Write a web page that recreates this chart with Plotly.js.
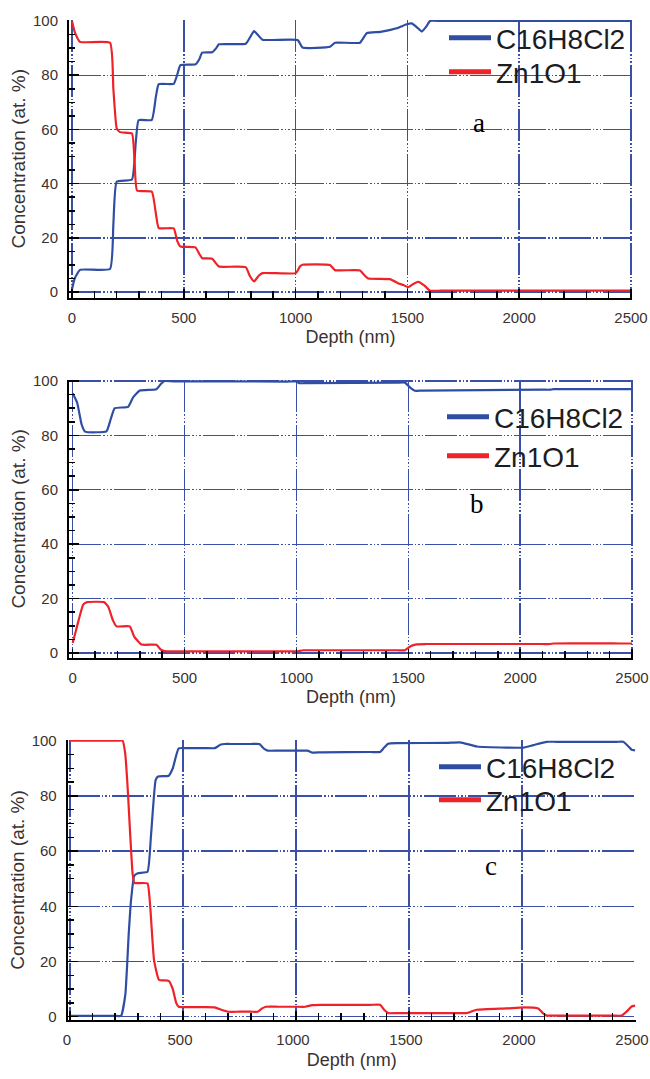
<!DOCTYPE html>
<html><head><meta charset="utf-8">
<script src="https://cdn.plot.ly/plotly-3.0.1.min.js"></script>
<style>html,body{margin:0;padding:0;background:#fff}#chart{width:650px;height:1079px}</style>
</head><body><div id="chart"></div>
<script>
// ---------- text ----------
const seriesNames = ['C16H8Cl2', 'Zn1O1'];
const panelLabels = ['a', 'b', 'c'];
const xTitle = 'Depth (nm)';
const yTitle = 'Concentration (at. %)';

// ---------- data: panel a ----------
const depthA_C16 = [0,12,36,170,185,200,268,285,298,357,375,388,455,470,485,552,570,582,627,645,657,777,800,814,830,852,1009,1031,1154,1176,1288,1318,1380,1452,1497,1519,1545,1564,1585,1601,1650,2450,2500];
const concA_C16  = [1,5,8.2,8.5,25,40.7,41.5,55,63.4,63.5,72,76.7,76.8,80,83.7,84,86,88.3,88.5,90,91.4,91.6,94.5,96.3,95,93.1,93,90.2,90.5,92,92,95.5,96,97.3,98.8,99.1,97.5,96.1,98,100,100,100,100];
const depthA_Zn  = [0,12,36,170,185,200,215,268,280,291,357,375,388,455,470,485,552,570,582,627,645,657,777,795,814,835,852,1001,1020,1031,1154,1176,1288,1310,1325,1422,1460,1482,1504,1530,1549,1575,1601,1650,2450,2500];
const concA_Zn   = [100,96,92.3,92,75,60.4,59,58.5,48,37.5,37,29,23.6,23.5,19,16.8,16.5,14,12.5,12.3,10.5,9.4,9.2,6,3.9,6,7,7,9.5,10.1,10,8.1,8,6,5,4.8,3.2,2.6,1.8,3.2,3.8,2.5,0.5,0.5,0.5,0.5];

// ---------- data: panel b ----------
const depthB_C16 = [0,20,40,55,151,170,188,248,270,300,374,395,411,450,960,1000,1012,1050,1450,1485,1510,1530,1560,2100,2133,2150,2450,2500];
const concB_C16  = [95.5,92,84,81.4,81.5,86,90,90.5,94,96.5,97,99,100,99.9,99.8,99.8,99.2,99.2,99.4,99.4,97.5,96.4,96.5,96.8,96.8,97,97,97];
const depthB_Zn  = [0,20,47,65,140,159,180,196,255,275,307,374,395,411,450,960,1000,1030,1060,1450,1485,1510,1537,1580,2100,2133,2150,2450,2500];
const concB_Zn   = [3.7,10,17.8,18.7,18.7,17,12,9.8,9.8,6,3.1,3,1.2,0.7,0.6,0.6,0.6,1.0,1.0,1.0,1.0,2.5,3.2,3.3,3.3,3.3,3.5,3.5,3.5];

// ---------- data: panel c ----------
const depthC_C16 = [0,30,200,226,245,260,270,284,300,343,358,379,390,437,455,481,520,600,641,665,685,720,800,838,860,875,920,1000,1050,1071,1110,1330,1372,1390,1408,1450,1667,1726,1800,1932,2007,2050,2109,2150,2420,2448,2470,2485,2500];
const concC_C16  = [0.3,0.3,0.3,0.3,8,30,42,51,52,52.5,65,85.7,87,87.3,90,97.2,97.3,97.3,97.3,98.5,98.8,98.8,98.8,98.8,97,96.4,96.4,96.4,96.4,95.7,95.8,95.9,95.9,97.5,98.9,99.1,99.2,99.4,97.9,97.5,97.5,98.4,99.6,99.6,99.6,99.6,98,96.7,96.5];
const depthC_Zn  = [0,20,210,233,245,255,277,285,300,343,355,372,394,437,455,470,481,520,600,641,670,700,750,800,831,850,867,920,1000,1042,1071,1110,1330,1372,1390,1408,1450,1700,1755,1800,1932,2007,2072,2090,2109,2150,2400,2441,2465,2485,2500];
const concC_Zn   = [100,100,100,100,95,83.3,51.9,48.5,48.4,48.3,40,20.5,13.3,13,10,5,3.6,3.5,3.5,3.4,2.5,1.8,1.8,1.8,1.8,3,3.6,3.6,3.6,3.6,4.2,4.3,4.3,4.3,2.5,1.3,1.3,1.3,1.3,2.5,3.0,3.4,3.0,1.5,0.4,0.4,0.4,0.4,2,3.7,4.0];

// ---------- styling ----------
const W = 650, H = 1079;
const BLUE = '#2f4ea3', RED = '#ee2228', GRID = '#3a4fa8';
const TXT = '#3a3130';
const DASH = '32px,2px,1.5px,2px,1.5px,2px,1.5px,2px';

// pixel boxes of the three plot areas: [left, right, top, bottom], axis ranges,
// legend key rows (x of key start, y of each row), label centre, white mask boxes
const panels = [
  {box:[69,632,20,297.5],  xr:[-13.4,2504.5], yr:[-2.0,100.37], C:[depthA_C16,concA_C16], Z:[depthA_Zn,concA_Zn],
   leg:[444,[38,72]], lab:[479,123], masks:[[437,628,25,90],[455,542,90,160]], shift:0},
  {box:[69,633,380,657.7], xr:[-16.5,2504.5], yr:[-1.73,100.37], C:[depthB_C16,concB_C16], Z:[depthB_Zn,concB_Zn],
   leg:[442,[417,456]], lab:[477,504], masks:[[430,628,396,487],[448,538,487,497]], shift:0},
  {box:[67.7,636,740,1020],xr:[-10,2504.4],  yr:[-1.2,100.25], C:[depthC_C16,concC_C16], Z:[depthC_Zn,concC_Zn],
   leg:[434,[767,800]], lab:[491,866], masks:[[417,620,756,833],[467,553,833,858]], shift:-3}
];

const data = [];
const layout = {
  width: W, height: H, margin:{l:0,r:0,t:0,b:0},
  paper_bgcolor:'#fff', plot_bgcolor:'#fff', showlegend:true,
  font:{family:'Liberation Sans, Arial, sans-serif', color:TXT},
  annotations: [], shapes: []
};

panels.forEach((p, i) => {
  const n = i === 0 ? '' : String(i + 1);
  const xa = 'x' + n, ya = 'y' + n;
  const [L, R, T, B] = p.box;
  layout['xaxis' + n] = {
    domain:[L / W, R / W], range:p.xr, anchor:ya, fixedrange:true,
    tick0:0, dtick:500, ticks:'inside', ticklen:9, tickwidth:1.5, tickcolor:'#000',
    minor:{tick0:0, dtick:100, ticks:'inside', ticklen:7, tickwidth:1.5, tickcolor:'#000', showgrid:false},
    showgrid:true, gridcolor:GRID, gridwidth:1.4, griddash:DASH, zeroline:false,
    showline:true, linecolor:'#000', linewidth:2,
    tickfont:{size:15, color:TXT}, ticklabelstandoff:5, ticklabelshift:p.shift, ticklabeloverflow:'allow', automargin:false,
    title:{text:xTitle, font:{size:18, color:TXT}, standoff:6}
  };
  layout['yaxis' + n] = {
    domain:[1 - B / H, 1 - T / H], range:p.yr, anchor:xa, fixedrange:true,
    tick0:0, dtick:20, ticks:'inside', ticklen:10, tickwidth:1.5, tickcolor:'#000',
    minor:{tick0:0, dtick:5, ticks:'inside', ticklen:6, tickwidth:1.5, tickcolor:'#000', showgrid:false},
    showgrid:true, gridcolor:GRID, gridwidth:1.4, griddash:DASH, zeroline:false,
    showline:true, linecolor:'#000', linewidth:2,
    tickfont:{size:15, color:TXT}, ticklabelstandoff:6, ticklabeloverflow:'allow', automargin:false,
    title:{text:yTitle, font:{size:19, color:TXT}, standoff:2}
  };
  // white masks where the original hides the grid behind legend and label
  p.masks.forEach(m => layout.shapes.push({
    type:'rect', xref:'paper', yref:'paper', x0:m[0] / W, x1:m[1] / W, y0:1 - m[3] / H, y1:1 - m[2] / H,
    fillcolor:'#fff', line:{width:0}, layer:'between'
  }));
  // data lines
  data.push({x:p.C[0], y:p.C[1], xaxis:xa, yaxis:ya, type:'scatter', mode:'lines',
             line:{color:BLUE, width:2.2, shape:'spline', smoothing:0.4}, name:seriesNames[0], showlegend:false});
  data.push({x:p.Z[0], y:p.Z[1], xaxis:xa, yaxis:ya, type:'scatter', mode:'lines',
             line:{color:RED, width:2.2, shape:'spline', smoothing:0.4}, name:seriesNames[1], showlegend:false});
  // legend entries: one single-item legend per row, thick key lines as in the original
  seriesNames.forEach((nm, k) => {
    const idx = i * 2 + k + 1;
    const legName = idx === 1 ? 'legend' : 'legend' + idx;
    layout[legName] = {
      x:p.leg[0] / W, y:1 - p.leg[1][k] / H, xanchor:'left', yanchor:'middle',
      bgcolor:'rgba(0,0,0,0)', borderwidth:0,
      font:{size:28, color:'#1c1c24', family:'Liberation Sans, Arial, sans-serif'},
      itemwidth:42
    };
    data.push({x:[null], y:[null], xaxis:xa, yaxis:ya, type:'scatter', mode:'lines',
               line:{color:k === 0 ? BLUE : RED, width:5}, name:nm, legend:legName, showlegend:true, hoverinfo:'skip'});
  });
  layout.annotations.push({
    xref:'paper', yref:'paper', x:p.lab[0] / W, y:1 - p.lab[1] / H, xanchor:'center', yanchor:'middle',
    text:panelLabels[i], showarrow:false,
    font:{family:'Liberation Serif, Times New Roman, serif', size:27, color:'#000'}
  });
});

Plotly.newPlot('chart', data, layout, {staticPlot:true, displayModeBar:false});
</script>
</body></html>
